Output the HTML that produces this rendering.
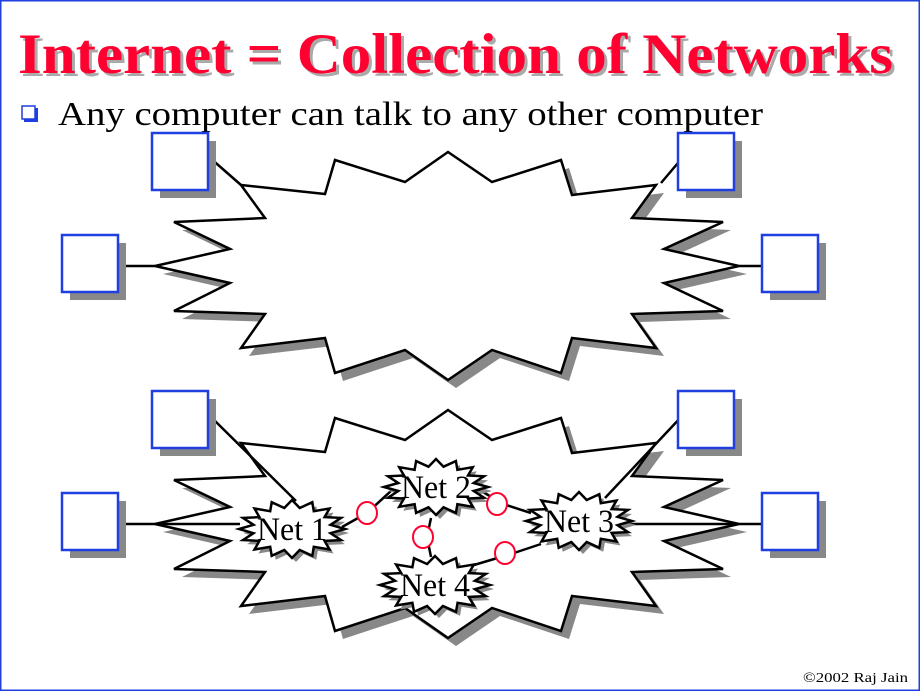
<!DOCTYPE html>
<html><head><meta charset="utf-8"><style>
html,body{margin:0;padding:0;background:#fff}
svg{display:block}
</style></head><body>
<svg id="s" width="920" height="691" viewBox="0 0 920 691" xmlns="http://www.w3.org/2000/svg">
<rect x="0.5" y="0.5" width="919" height="690" fill="#fff" stroke="#1f3fe0" stroke-width="2"/>
<g font-family="Liberation Serif, serif">
<text x="21" y="76" font-size="57" font-weight="bold" fill="#aaa" textLength="875" lengthAdjust="spacingAndGlyphs">Internet = Collection of Networks</text>
<text x="18" y="73" font-size="57" font-weight="bold" fill="#ff0030" textLength="875" lengthAdjust="spacingAndGlyphs">Internet = Collection of Networks</text>
<rect x="24" y="108" width="14" height="14" fill="#1f3fe0"/>
<rect x="22" y="106" width="13" height="13" fill="#fff" stroke="#1f3fe0" stroke-width="1.5"/>
<text x="58" y="125" font-size="34" fill="#000" textLength="705" lengthAdjust="spacingAndGlyphs">Any computer can talk to any other computer</text>
<text x="803" y="682" font-size="14" fill="#000" textLength="105" lengthAdjust="spacingAndGlyphs">©2002 Raj Jain</text>
</g>
<g id="big"></g>
<g id="rest"></g>
</svg>
<script>
var NS="http://www.w3.org/2000/svg";
function el(p,t,a){var e=document.createElementNS(NS,t);for(var k in a)e.setAttribute(k,a[k]);p.appendChild(e);return e;}
var big=[[241,185],[325,194],[335,160],[405,182],[448,152],[492,182],[561,160],[572,195],[656,185],[632,218],[723,222],[664,249],[739,266],[664,283],[723,311],[632,314],[656,348],[572,338],[561,373],[492,350],[448,380],[405,350],[335,373],[325,338],[241,348],[265,314],[174,311],[230,283],[155,266],[230,249],[174,222],[265,218]];
function pts(a,dx,dy){return a.map(function(p){return (p[0]+dx).toFixed(1)+","+(p[1]+dy).toFixed(1)}).join(" ");}
var g=document.getElementById("big");
[0,258].forEach(function(o){
 el(g,"polygon",{points:pts(big,8,o+8),fill:"#888"});
 el(g,"polygon",{points:pts(big,0,o),fill:"#fff",stroke:"#000","stroke-width":2.5,"stroke-linejoin":"miter"});
});
var r=document.getElementById("rest");
function line(x1,y1,x2,y2){el(r,"line",{x1:x1,y1:y1,x2:x2,y2:y2,stroke:"#000","stroke-width":2.5});}
line(209,157,241,185);line(683,157,661,183);line(117,266,155,266);line(739,266,762,266);
line(209,415,296,501);line(117,524,240,524);line(624,524,762,524);line(683,415,605,498);
line(342,527,367,513);line(367,513,392,490);
line(483,492,503,504);line(503,504,531,513);
line(431,518,427,537);line(427,537,431,557);
line(474,565,511,554);line(511,554,541,544);
[[152,133],[62,235],[678,133],[762,235],[152,391],[62,493],[678,391],[762,493]].forEach(function(b){
 el(r,"rect",{x:b[0]+8,y:b[1]+8,width:56,height:57,fill:"#888"});
 el(r,"rect",{x:b[0],y:b[1],width:56,height:57,fill:"#fff",stroke:"#1f3fe0","stroke-width":2.5});
});
function star(cx,cy,rx,ry,label){
 var n=16,a=[];
 for(var i=0;i<n*2;i++){var t=Math.PI*i/n;var f=i%2?0.74:1;a.push([cx+rx*f*Math.cos(t),cy+ry*f*Math.sin(t)]);}
 el(r,"polygon",{points:pts(a,4,4),fill:"#888"});
 el(r,"polygon",{points:pts(a,0,0),fill:"#fff",stroke:"#000","stroke-width":2.5});
 var t=el(r,"text",{x:cx-35,y:cy+11,"font-family":"Liberation Serif, serif","font-size":33,fill:"#000",textLength:70,lengthAdjust:"spacingAndGlyphs"});
 t.textContent=label;
}
star(292,529,53,29,"Net 1");
star(436,487,52,28,"Net 2");
star(579,521,53,29,"Net 3");
star(435,585,55,29,"Net 4");
[[367,513],[497,504],[423,537],[505,553]].forEach(function(c){
 el(r,"ellipse",{cx:c[0],cy:c[1],rx:10,ry:11,fill:"#fff",stroke:"#ff0030","stroke-width":2});
});
</script>
</body></html>
